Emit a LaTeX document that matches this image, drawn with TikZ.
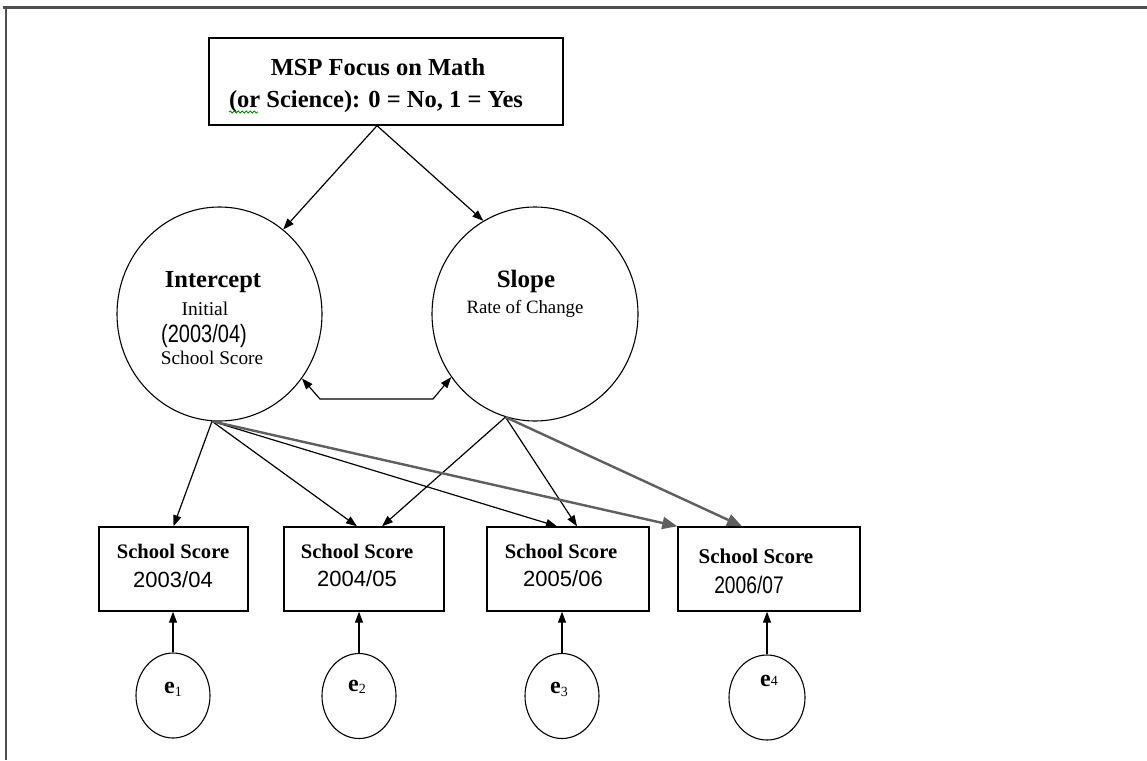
\documentclass[tikz,border=0pt]{standalone}
\usepackage{fontspec}
\setmainfont{Liberation Serif}
\newfontfamily\sansA{Liberation Sans}
\newfontfamily\sansN[FakeStretch=0.8]{Liberation Sans}
\usetikzlibrary{arrows.meta,shapes.geometric,decorations.pathmorphing}
\newcommand\myfs[1]{\fontsize{#1}{#1}\selectfont}
\definecolor{grayarrow}{HTML}{5F5F5F}
\definecolor{framegray}{HTML}{505050}
\begin{document}
\begin{tikzpicture}[x=1pt,y=-1pt,
  boxst/.style={draw,line width=1.4pt,inner sep=0pt},
  latst/.style={draw,ellipse,line width=1.1pt,inner sep=0pt},
  txt/.style={inner sep=0pt,anchor=base},
  etxt/.style={inner sep=0pt,anchor=base west},
  arr/.style={-{Triangle[length=11pt,width=8pt]},line width=1.2pt},
  darr/.style={{Triangle[length=11pt,width=8pt]}-{Triangle[length=11pt,width=8pt]},line width=1.2pt},
  garr/.style={-{Triangle[length=15pt,width=12pt]},line width=2.4pt,draw=grayarrow}]
\useasboundingbox (0,0) rectangle (1147,760);
\fill[white] (0,0) rectangle (1147,760);
% frame
\draw[line width=3pt,color=framegray] (3,7.5) -- (1147,7.5);
\draw[line width=2pt,color=framegray] (6,7.5) -- (6,760);

% top box
\node[boxst,minimum width=354pt,minimum height=87pt] (top) at (386,81.5) {};
\node[txt] (t1) at (378,75) {\myfs{24.5}\bfseries MSP Focus on Math};
\node[txt] (t2) at (376,107) {\myfs{24.5}\bfseries (or Science): 0 = No, 1 = Yes};
\draw[green!55!black,line width=0.8pt,decorate,decoration={snake,amplitude=1pt,segment length=4pt}] (229,112) -- (258,112);

% latent circles
\node[latst,minimum width=205pt,minimum height=214pt] (icpt) at (219.5,314) {};
\node[txt] (it1) at (213,287) {\myfs{24.5}\bfseries Intercept};
\node[txt] (it2) at (205,315) {\myfs{19.5}Initial};
\node[txt] (it3) at (204,342) {\myfs{25}\sansN (2003/04)};
\node[txt] (it4) at (212,364) {\myfs{19.3}School Score};

\node[latst,minimum width=206pt,minimum height=214pt] (slope) at (535,314) {};
\node[txt] (sl1) at (526,287) {\myfs{25}\bfseries Slope};
\node[txt] (sl2) at (525,313) {\myfs{18.8}Rate of Change};

% observed boxes
\node[boxst,minimum width=149pt,minimum height=84pt] (b1) at (173.5,569) {};
\node[boxst,minimum width=160pt,minimum height=84pt] (b2) at (364,569) {};
\node[boxst,minimum width=162pt,minimum height=84pt] (b3) at (568,569) {};
\node[boxst,minimum width=182pt,minimum height=84pt] (b4) at (769,569) {};

\node[txt] (b1a) at (173,558) {\myfs{20.6}\bfseries School Score};
\node[txt] (b1b) at (173,587) {\myfs{22}\sansA 2003/04};
\node[txt] (b2a) at (357,558) {\myfs{20.6}\bfseries School Score};
\node[txt] (b2b) at (357,586) {\myfs{22}\sansA 2004/05};
\node[txt] (b3a) at (561,558) {\myfs{20.6}\bfseries School Score};
\node[txt] (b3b) at (563,586) {\myfs{22}\sansA 2005/06};
\node[txt] (b4a) at (756,563) {\myfs{21}\bfseries School Score};
\node[txt] (b4b) at (749,593) {\myfs{24}\sansN 2006/07};

% error terms
\node[latst,minimum width=74pt,minimum height=85pt] (e1) at (173,695.5) {};
\node[latst,minimum width=74pt,minimum height=85pt] (e2) at (359,696) {};
\node[latst,minimum width=74pt,minimum height=85pt] (e3) at (562,696) {};
\node[latst,minimum width=76pt,minimum height=85pt] (e4) at (767,697.5) {};
\node[etxt] (e1t) at (164,693) {\myfs{24}\bfseries e\raisebox{-3pt}{\myfs{14}\mdseries 1}};
\node[etxt] (e2t) at (348,691) {\myfs{24}\bfseries e\raisebox{-2pt}{\myfs{14}\mdseries 2}};
\node[etxt] (e3t) at (550,693) {\myfs{24}\bfseries e\raisebox{-3pt}{\myfs{14}\mdseries 3}};
\node[etxt] (e4t) at (760,686) {\myfs{24}\bfseries e\raisebox{1pt}{\myfs{14}\mdseries 4}};

% coordinates
\coordinate (apex) at ([xshift=-9pt]top.south);
\coordinate (cv1) at (320,399);
\coordinate (cv2) at (433,399);

% connectors
\draw[arr] (apex) -- (icpt.53);
\draw[arr] (apex) -- (slope.119);
\draw[darr] (icpt.322) -- (cv1) -- (cv2) -- (slope.217);

\draw[arr] (icpt.266) -- (b1.north);
\draw[arr] (icpt.266) -- ([xshift=-7pt]b2.north);
\draw[arr] (icpt.266) -- ([xshift=-11pt]b3.north);
\draw[arr] (slope.254) -- ([xshift=18pt]b2.north);
\draw[arr] (slope.254) -- ([xshift=9pt]b3.north);
\draw[garr] (icpt.266) -- (b4.north west);
\draw[garr] (slope.254) -- ([xshift=-27pt]b4.north);

\draw[arr] (e1.north) -- (e1.north |- b1.south);
\draw[arr] (e2.north) -- (e2.north |- b2.south);
\draw[arr] (e3.north) -- (e3.north |- b3.south);
\draw[arr] (e4.north) -- (e4.north |- b4.south);
\end{tikzpicture}
\end{document}
